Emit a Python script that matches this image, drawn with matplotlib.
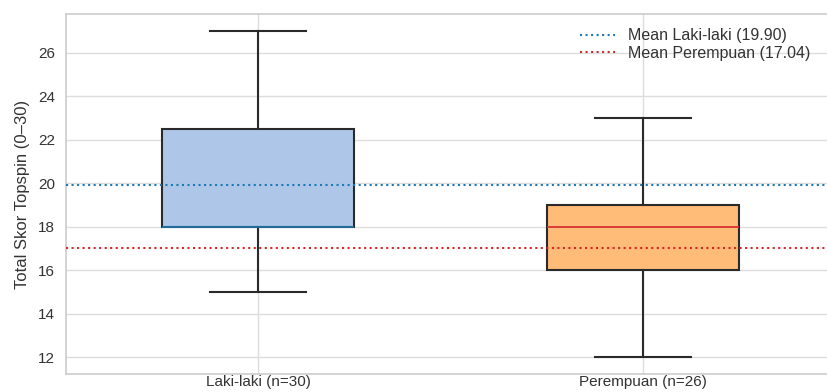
import numpy as np
import matplotlib
matplotlib.use("Agg")
import matplotlib.pyplot as plt

# data
groups = ["Laki-laki (n=30)", "Perempuan (n=26)"]
q1 = [18.0, 16.0]
median = [18.0, 18.0]
q3 = [22.5, 19.0]
whisker_lo = [15.0, 12.0]
whisker_hi = [27.0, 23.0]
means = [19.90, 17.04]
mean_labels = ["Mean Laki-laki (19.90)", "Mean Perempuan (17.04)"]

box_colors = ["#aec7e8", "#ffbb78"]
median_colors = ["#1f77b4", "#d62728"]
mean_colors = ["#1f77b4", "#d62728"]

plt.rcParams['font.family'] = ['Liberation Sans', 'DejaVu Sans']

fig = plt.figure(figsize=(8.28, 3.92), dpi=100)
ax = fig.add_axes([66 / 828, 18 / 392, 769 / 828, 360 / 392])

stats = []
for i in range(len(groups)):
    stats.append({
        'label': groups[i],
        'q1': q1[i], 'med': median[i], 'q3': q3[i],
        'whislo': whisker_lo[i], 'whishi': whisker_hi[i],
        'fliers': [],
    })

bp = ax.bxp(stats, positions=[1, 2], widths=0.5, patch_artist=True,
            showfliers=False,
            boxprops=dict(edgecolor="#2a2a2a", linewidth=1.5),
            whiskerprops=dict(color="#2a2a2a", linewidth=1.5),
            capprops=dict(color="#2a2a2a", linewidth=1.5))
for patch, c in zip(bp['boxes'], box_colors):
    patch.set_facecolor(c)
for med, c in zip(bp['medians'], median_colors):
    med.set_color(c)
    med.set_linewidth(1.2)

for m, c, lab in zip(means, mean_colors, mean_labels):
    ax.axhline(m, color=c, linestyle=":", linewidth=1.5, label=lab, zorder=5)

ax.set_xlim(0.5, 2.5)
ax.set_ylim(11.23, 27.77)
ax.set_yticks([12, 14, 16, 18, 20, 22, 24, 26])
ax.set_ylabel("Total Skor Topspin (0\u201330)", fontsize=12, color="#333333",
              labelpad=6)
ax.tick_params(axis='both', labelsize=11, colors="#333333", length=0)
ax.tick_params(axis='x', pad=1)
ax.tick_params(axis='y', pad=8)

ax.grid(True, color="#dddddd", linewidth=1.0)
ax.set_axisbelow(True)
for s in ax.spines.values():
    s.set_color("#cccccc")
    s.set_linewidth(1.2)

leg = ax.legend(loc="upper right", bbox_to_anchor=(828 / 835 * 0.995, 1.0),
                frameon=False, fontsize=11.5, handlelength=2.2,
                labelspacing=0.15)
for t in leg.get_texts():
    t.set_color("#333333")

fig.savefig("out.png", dpi=100)
